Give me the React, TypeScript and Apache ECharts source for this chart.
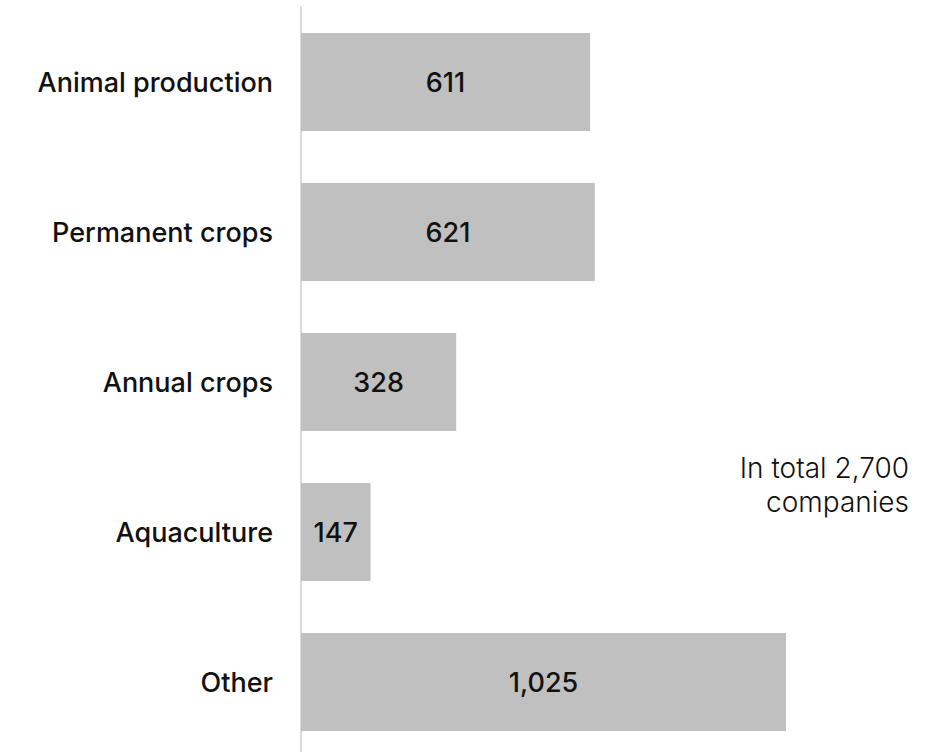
import React, { useEffect, useRef } from "react";
import * as echarts from "echarts";

const categories = ["Animal production", "Permanent crops", "Annual crops", "Aquaculture", "Other"];
const values = [611, 621, 328, 147, 1025];
const noteLines = ["In total 2,700", "companies"];

const FONT = "Inter";

export default function App() {
  const ref = useRef<HTMLDivElement>(null);
  useEffect(() => {
    document.body.style.margin = "0";
    document.body.style.overflow = "hidden";
    const chart = echarts.init(ref.current!, null, { renderer: "svg" });
    chart.setOption({
      animation: false,
      backgroundColor: "#ffffff",
      textStyle: { fontFamily: FONT },
      grid: { left: 301, top: 7, width: 485, height: 750, containLabel: false },
      xAxis: {
        type: "value",
        min: 0,
        max: 1025,
        show: false,
      },
      yAxis: {
        type: "category",
        data: categories,
        inverse: true,
        axisLine: { show: true, lineStyle: { color: "#d9d9d9", width: 2 } },
        axisTick: { show: false },
        axisLabel: {
          margin: 28,
          color: "#111111",
          fontSize: 27,
          fontWeight: 500,
          fontFamily: FONT,
        },
      },
      series: [
        {
          type: "bar",
          data: values,
          barWidth: 98,
          itemStyle: { color: "#c0c0c0" },
          label: {
            show: true,
            position: "inside",
            color: "#111111",
            fontSize: 27,
            fontWeight: 500,
            fontFamily: FONT,
            formatter: (p: any) => Number(p.value).toLocaleString("en-US"),
          },
        },
      ],
      graphic: noteLines.map((t, i) => ({
        type: "text",
        x: 909,
        y: 468 + i * 34,
        style: {
          text: t,
          align: "right",
          verticalAlign: "middle",
          fill: "#111111",
          fontSize: 28,
          fontWeight: 300,
          fontFamily: FONT,
        },
      })),
    });
    return () => chart.dispose();
  }, []);
  return (
    <div style={{ position: "absolute", left: 0, top: 0, width: 936, height: 752, overflow: "hidden" }}>
      <div ref={ref} style={{ width: 936, height: 762 }} />
    </div>
  );
}
